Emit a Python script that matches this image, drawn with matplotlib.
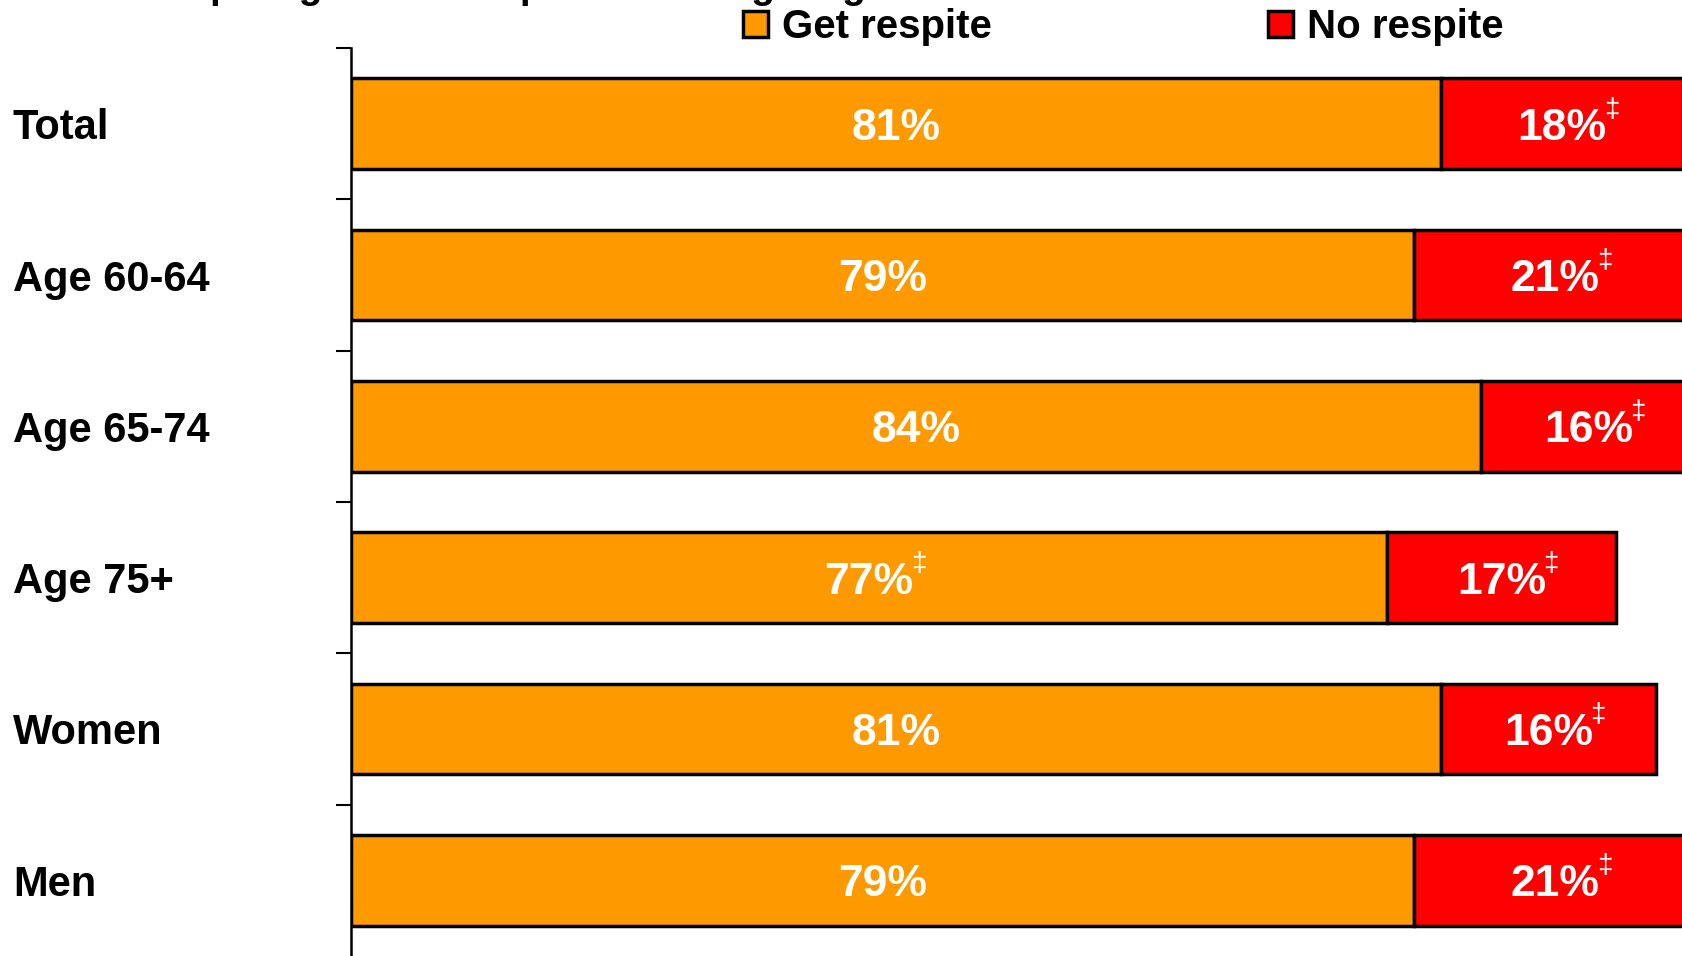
import numpy as np
import matplotlib.pyplot as plt
from matplotlib.transforms import blended_transform_factory

plt.rcParams['font.family'] = ['Liberation Sans', 'DejaVu Sans']

categories = ['Total', 'Age 60-64', 'Age 65-74', 'Age 75+', 'Women', 'Men']
get_respite = [81, 79, 84, 77, 81, 79]
no_respite = [18, 21, 16, 17, 16, 21]
get_flag = [False, False, False, True, False, False]
no_flag = [True, True, True, True, True, True]

orange = '#FF9900'
red = '#FF0000'

fig = plt.figure(figsize=(16.83, 9.56), dpi=100)
ax = fig.add_axes([351 / 1683, 0.0, 1 - 351 / 1683, 1 - 48 / 956])

y = np.arange(len(categories))
ax.barh(y, get_respite, height=0.6, color=orange, edgecolor='black',
        linewidth=2.5, label='Get respite')
ax.barh(y, no_respite, left=get_respite, height=0.6, color=red,
        edgecolor='black', linewidth=2.5, label='No respite')

ax.set_xlim(0, 99)
ax.set_ylim(len(categories) - 0.5, -0.5)

for s in ['top', 'right', 'bottom']:
    ax.spines[s].set_visible(False)
ax.spines['left'].set_linewidth(1.8)
ax.set_xticks([])
ax.set_yticks(np.arange(len(categories)) - 0.5)
ax.set_yticklabels([])
ax.tick_params(axis='y', length=11, width=1.5, direction='out')

# category labels
trans = blended_transform_factory(fig.transFigure, ax.transData)
for i, c in enumerate(categories):
    ax.text(13 / 1683, i, c, transform=trans, ha='left',
            va='center_baseline', fontsize=30, fontweight='bold',
            color='black')


def pct_label(x, yy, val, flag):
    t = ax.text(x, yy, '%d%%' % val, ha='center', va='center_baseline',
                fontsize=32, fontweight='bold', color='white')
    if flag:
        ax.annotate('\u2021', xy=(1, 1), xycoords=t, xytext=(-2, 8),
                    textcoords='offset points', ha='left', va='top',
                    fontsize=20, color='white')


for i in range(len(categories)):
    pct_label(get_respite[i] / 2, i, get_respite[i], get_flag[i])
    pct_label(get_respite[i] + no_respite[i] / 2, i, no_respite[i], no_flag[i])

leg = ax.legend(loc='center left', bbox_to_anchor=(743 / 1683, 1 - 27 / 956),
                bbox_transform=fig.transFigure, ncol=2, frameon=False,
                prop={'weight': 'bold', 'size': 29},
                handlelength=0.62, handleheight=0.62, handletextpad=0.35,
                columnspacing=6.85, borderpad=0, borderaxespad=0)

# title, mostly cut off at the top of the image
fig.text(22 / 1683, 1 + 2 / 956, 'Base: People age 60+ who provide caregiving',
         ha='left', va='baseline', fontsize=28, fontweight='bold',
         color='black')

fig.savefig('out.png', dpi=100)
